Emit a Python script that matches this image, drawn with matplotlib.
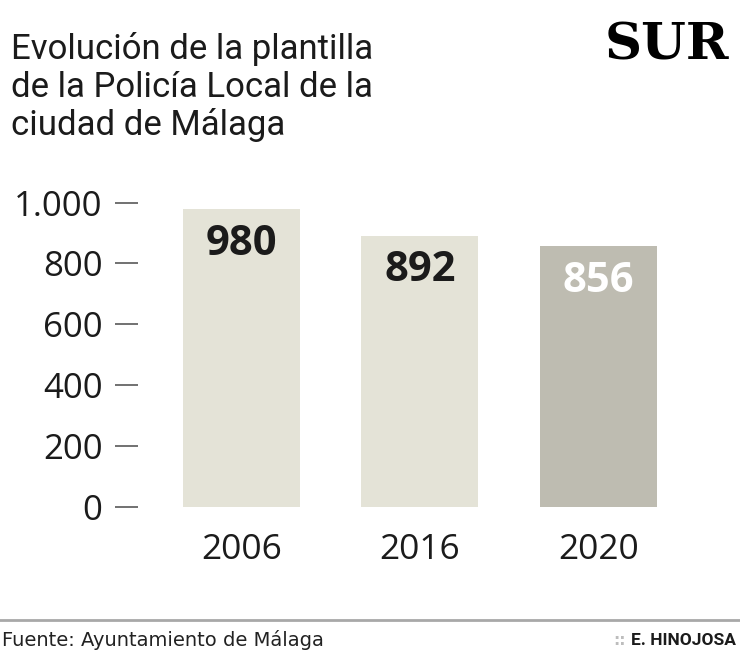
import matplotlib
matplotlib.use("Agg")
import matplotlib.pyplot as plt
from matplotlib.lines import Line2D

# ---- data ----
years = ["2006", "2016", "2020"]
values = [980, 892, 856]
yticks = [0, 200, 400, 600, 800, 1000]
ytick_labels = ["0", "200", "400", "600", "800", "1.000"]
title_lines = ["Evolución de la plantilla", "de la Policía Local de la", "ciudad de Málaga"]
source = "Fuente: Ayuntamiento de Málaga"
author = "E. HINOJOSA"

bar_colors = ["#e4e3d7", "#e4e3d7", "#bebcb1"]
label_colors = ["#1b1b1b", "#1b1b1b", "#ffffff"]

W, H = 740, 670
fig = plt.figure(figsize=(W / 100, H / 100), dpi=100)
fig.patch.set_facecolor("white")

ax_left, ax_right = 138, 700
ax_bottom, ax_top = 506.7, 202.7
ax = fig.add_axes([ax_left / W, (H - ax_bottom) / H,
                   (ax_right - ax_left) / W, (ax_bottom - ax_top) / H])

x = list(range(len(years)))
ax.bar(x, values, width=0.655, color=bar_colors, zorder=2)
ax.set_xlim(-0.58, 2.57)
ax.set_ylim(0, 1000)

for s in ax.spines.values():
    s.set_visible(False)

ax.set_yticks(yticks)
ax.set_yticklabels(ytick_labels, fontfamily="Open Sans", fontsize=25, color="#1b1b1b")
ax.tick_params(axis="y", direction="out", length=16.5, width=1.3, color="#666666", pad=9)
ax.set_xticks(x)
ax.set_xticklabels(years, fontfamily="Open Sans", fontsize=25.5, color="#1b1b1b")
ax.tick_params(axis="x", length=0, pad=19)

for xi, v, c in zip(x, values, label_colors):
    ax.annotate(f"{v}", xy=(xi, v), xytext=(0, -33), textcoords="offset points",
                ha="center", va="baseline", fontfamily="Open Sans", fontweight="bold",
                fontsize=30, color=c, zorder=3)

# title
for i, (line, base) in enumerate(zip(title_lines, [59.3, 97, 135])):
    fig.text(11 / W, 1 - base / H, line, fontfamily="Roboto",
             fontweight="normal", fontsize=25, color="#1b1b1b", ha="left", va="baseline")

# logo
fig.text(729 / W, 1 - 60 / H, "SUR", fontfamily="DejaVu Serif", fontweight="bold",
         fontsize=37, color="black", ha="right", va="baseline")

# footer line
fig.add_artist(Line2D([0, 1], [1 - 620 / H, 1 - 620 / H], transform=fig.transFigure,
                      color="#a8a8a8", linewidth=2))
fig.text(2 / W, 1 - 645.7 / H, source, fontfamily="DejaVu Sans", fontsize=14,
         color="#222222", ha="left", va="baseline")
fig.text(736 / W, 1 - 645 / H, author, fontfamily="Roboto", fontweight="bold",
         fontsize=12.5, color="#1b1b1b", ha="right", va="baseline")
fig.text(626 / W, 1 - 645 / H, "::", fontfamily="DejaVu Sans", fontweight="bold",
         fontsize=11, color="#bdbdbd", ha="right", va="baseline")

fig.savefig("out.png", dpi=100, facecolor="white")
